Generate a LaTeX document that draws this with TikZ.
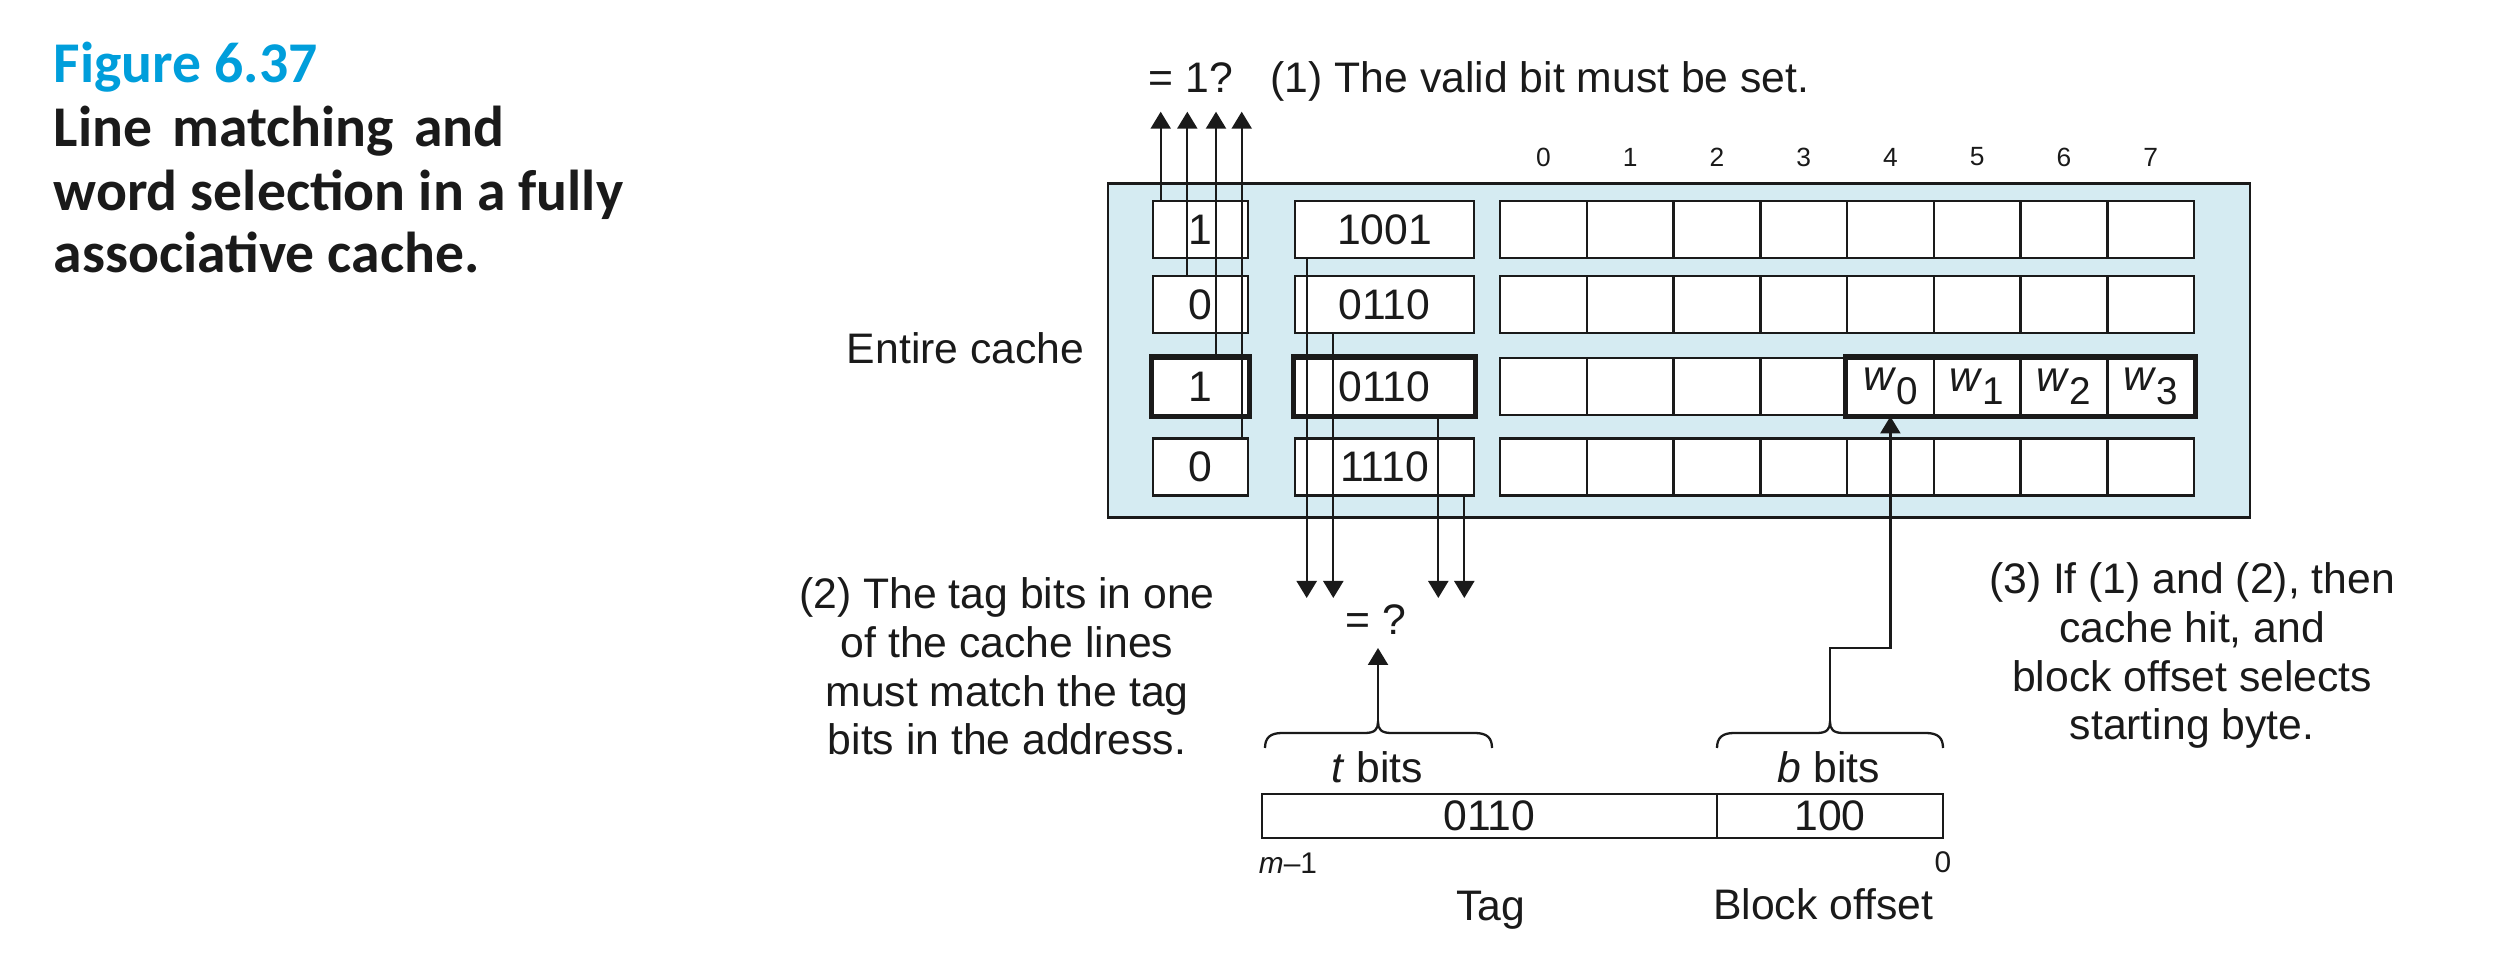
\documentclass[tikz,border=0pt]{standalone}
\usepackage{fontspec}
\setmainfont{Liberation Sans}
\newfontfamily\titlefont{Carlito}
\usetikzlibrary{arrows.meta}
\definecolor{cachebg}{RGB}{213,235,242}
\definecolor{figblue}{RGB}{0,158,219}
\definecolor{ink}{RGB}{26,26,26}
\newcommand\mybrace[3]{%
  \draw[conn] (#1,-7.48) .. controls (#1,-7.38) and (#1+0.05,-7.33) .. (#1+0.17,-7.33)
    -- (#2-0.13,-7.33) .. controls (#2-0.03,-7.33) and (#2,-7.29) .. (#2,-7.22)
    .. controls (#2,-7.29) and (#2+0.03,-7.33) .. (#2+0.13,-7.33)
    -- (#3-0.17,-7.33) .. controls (#3-0.05,-7.33) and (#3,-7.38) .. (#3,-7.48);}
\begin{document}
\begin{tikzpicture}[x=1cm,y=1cm,
  font=\fontsize{12.15}{13.9}\selectfont,
  box/.style={draw=ink, line width=0.7pt, fill=white, inner sep=0pt, minimum height=0.57cm, text=ink},
  vbox/.style={box, minimum width=0.95cm},
  tbox/.style={box, minimum width=1.79cm},
  cell/.style={box, minimum width=0.8675cm},
  hl/.style={draw=ink, line width=1.5pt},
  conn/.style={draw=ink, line width=0.65pt},
  arr/.style={conn, -{Triangle[width=0.2cm,length=0.17cm]}},
  lbl/.style={inner sep=0pt, text=ink},
  small/.style={font=\fontsize{7.5}{9}\selectfont},
  tiny/.style={font=\fontsize{8.5}{10}\selectfont},
  ttl/.style={lbl, anchor=base west, font=\titlefont\bfseries\fontsize{16.4}{19}\selectfont},
]
\useasboundingbox (0,0) rectangle (25,-9.68);

% title
\node[ttl, text=figblue] (fig) at (0.53,-0.83) {Figure 6.37};
\node[ttl] (ttl1) at (0.53,-1.47) {\makebox[4.51cm][s]{Line matching and}};
\node[ttl] (ttl2) at (0.53,-2.11) {word selection in a fully};
\node[ttl] (ttl3) at (0.53,-2.73) {associative cache.};

% cache
\node[draw=ink, line width=0.75pt, fill=cachebg, minimum width=11.42cm, minimum height=3.34cm, inner sep=0pt] (cache) at (16.79,-3.505) {};

\foreach \r/\y/\v/\t in {1/2.297/1/1001, 2/3.047/0/0110, 3/3.867/1/0110, 4/4.67/0/1110} {
  \node[vbox] (v\r) at (12.005,-\y) {\v};
  \node[tbox] (t\r) at (13.845,-\y) {\t};
  \foreach \k in {0,...,7} \node[cell] (c\r\k) at ({15.0+(\k+0.5)*0.8675},-\y) {};
}
\draw[hl] (v3.south west) rectangle (v3.north east);
\draw[hl] (t3.south west) rectangle (t3.north east);
\draw[hl] (c34.south west) rectangle (c37.north east);
\foreach \k in {0,...,3} {
  \node[lbl] (w\k) at (c3\the\numexpr\k+4\relax) {\textit{w}\raisebox{-0.32em}{\fontsize{11}{11}\selectfont\k}};
}

% column labels
\foreach \k in {0,...,7} \node[lbl, small] (col\k) at ({15.0+(\k+0.5)*0.8675},-1.57) {\k};

\node[lbl, anchor=east] (entire) at (10.85,-3.48) {Entire cache};

% valid bit arrows
\node[lbl, anchor=base west] (eq1) at (11.48,-0.93) {= 1?};
\node[lbl, anchor=base west] (note1) at (12.70,-0.93) {(1) The valid bit must be set.};
\foreach \i/\x in {1/11.607, 2/11.873, 3/12.16, 4/12.417} {
  \coordinate (vt\i) at (\x,-1.117);
  \draw[arr] (vt\i |- v\i.north) -- (vt\i);
}

% tag arrows
\foreach \i/\x in {1/13.067, 2/13.333, 3/14.383, 4/14.643} {
  \coordinate (tb\i) at (\x,-5.98);
  \draw[arr] (tb\i |- t\i.south) -- (tb\i);
}
\node[lbl] (eq) at (13.76,-6.20) {= ?};

% address
\node[box, minimum width=4.55cm, minimum height=0.44cm] (atag) at (14.895,-8.16) {0110};
\node[box, minimum width=2.26cm, minimum height=0.44cm] (aoff) at (18.30,-8.16) {100};
\node[lbl, anchor=base] (tbits) at (13.77,-7.82) {\textit{t} bits};
\node[lbl, anchor=base] (bbits) at (18.29,-7.82) {\textit{b} bits};
\node[lbl, tiny] (mlab) at (12.88,-8.63) {\textit{m}–1};
\node[lbl, tiny] (zlab) at (19.43,-8.62) {0};
\node[lbl, anchor=base] (taglab) at (14.91,-9.20) {Tag};
\node[lbl, anchor=base] (offlab) at (18.23,-9.19) {Block offset};

% braces and arrows
\mybrace{12.65}{13.78}{14.92}
\mybrace{17.17}{18.30}{19.43}
\coordinate (tcusp) at (13.78,-7.22);
\coordinate (eqtip) at (13.78,-6.48);
\draw[arr] (tcusp) -- (eqtip);
\coordinate (bcusp) at (18.30,-7.22);
\coordinate (bturn) at (18.30,-6.48);
\draw[arr] (bcusp) -- (bturn) -| (c34.south);

% notes
\node[lbl, align=center, anchor=base] (note2) at (10.07,-7.55) {(2) The tag bits in one\\of the cache lines\\must match the tag\\bits in the address.};
\node[lbl, align=center, anchor=base] (note3) at (21.92,-7.40) {(3) If (1) and (2), then\\cache hit, and\\block offset selects\\starting byte.};
\end{tikzpicture}
\end{document}
